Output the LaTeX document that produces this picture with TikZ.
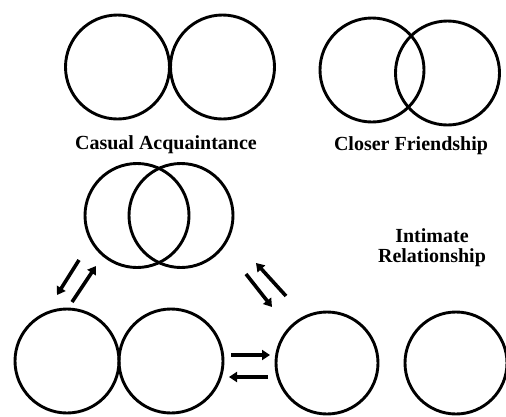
\documentclass[tikz,border=0pt]{standalone}
\usepackage{fontspec}
\setmainfont{Liberation Serif}
\usetikzlibrary{arrows.meta}
\begin{document}
\begin{tikzpicture}[x=1pt,y=-1pt,
  ring/.style={circle,draw,line width=2.9pt,inner sep=0pt,minimum size=#1},
  ring/.default=104pt,
  lbl/.style={font=\fontsize{20}{20}\selectfont\bfseries,align=center},
  flow/.style={line width=3.6pt,-{Triangle[length=8pt,width=10pt]}}]
\useasboundingbox (0,0) rectangle (506,416);
% Casual Acquaintance
\node[ring] (ca1) at (117.5,67) {};
\node[ring] (ca2) at (222.5,67) {};
\node[lbl] (tca) at (166,145) {Casual Acquaintance};
% Closer Friendship
\node[ring] (cf1) at (372,70) {};
\node[ring] (cf2) at (447.5,73) {};
\node[lbl] (tcf) at (411,146) {Closer Friendship};
% Intimate
\node[ring] (ir1) at (137,215.5) {};
\node[ring] (ir2) at (181,215.5) {};
\node[lbl] (tir) at (432,248) {Intimate\\Relationship};
% bottom
\node[ring] (b1) at (67,361) {};
\node[ring] (b2) at (171,361) {};
\node[ring=102pt] (b3) at (327,363) {};
\node[ring=102pt] (b4) at (456,363) {};
% arrows
\coordinate (l1s) at (79,260); \coordinate (l1e) at (57,295);
\coordinate (l2s) at (72,302); \coordinate (l2e) at (96,266);
\coordinate (r1s) at (246,274); \coordinate (r1e) at (272,307);
\coordinate (r2s) at (286,296); \coordinate (r2e) at (256,263);
\coordinate (h1s) at (231,355); \coordinate (h1e) at (270,355);
\coordinate (h2s) at (268,377); \coordinate (h2e) at (229,377);
\draw[flow] (l1s) -- (l1e);
\draw[flow] (l2s) -- (l2e);
\draw[flow] (r1s) -- (r1e);
\draw[flow] (r2s) -- (r2e);
\draw[flow] (h1s) -- (h1e);
\draw[flow] (h2s) -- (h2e);
\end{tikzpicture}
\end{document}
